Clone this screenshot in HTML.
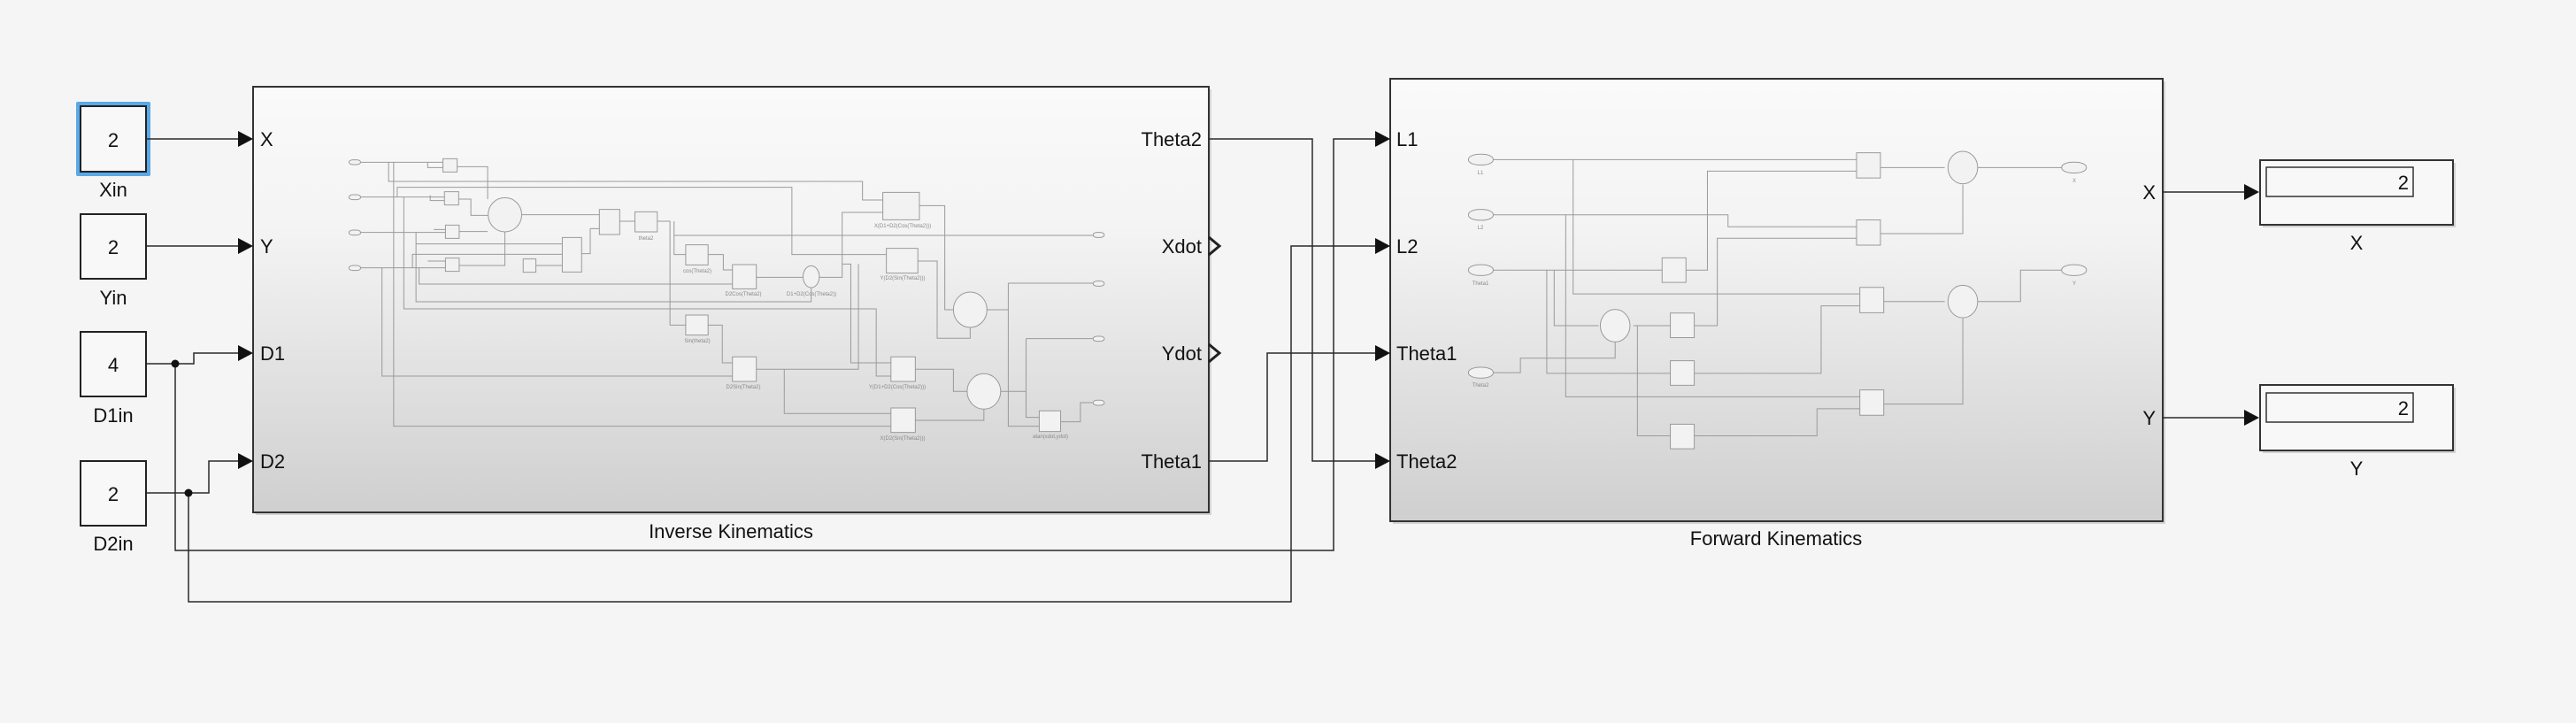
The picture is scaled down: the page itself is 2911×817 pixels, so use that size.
<!DOCTYPE html>
<html><head><meta charset="utf-8"><style>
html,body{margin:0;padding:0;background:#f5f5f5;}
svg{display:block;font-family:"Liberation Sans",sans-serif;}
.w{fill:none;stroke:#2a2a2a;stroke-width:1.5}
.i{fill:none;stroke:#9a9a9a;stroke-width:1;vector-effect:non-scaling-stroke}
.ib{fill:#f2f2f2;stroke:#9a9a9a;stroke-width:1;vector-effect:non-scaling-stroke}
.lbl{font-size:22px;fill:#111}
</style></head><body>
<svg width="2911" height="817" viewBox="0 0 2911 817" xmlns="http://www.w3.org/2000/svg">
<defs>
<linearGradient id="g" x1="0" y1="0" x2="0" y2="1">
<stop offset="0" stop-color="#fafafa"/><stop offset="0.35" stop-color="#f3f3f3"/><stop offset="1" stop-color="#cfcfcf"/>
</linearGradient>
</defs>
<rect width="2911" height="817" fill="#f5f5f5"/>

<!-- Source blocks -->
<rect x="86" y="115" width="84" height="84" fill="#5aa9e6" rx="2"/>
<rect x="91" y="120" width="74" height="74" fill="#f8f8f8" stroke="#222" stroke-width="2"/>
<text x="128" y="166" class="lbl" text-anchor="middle">2</text>
<text x="128" y="222" class="lbl" text-anchor="middle">Xin</text>
<rect x="91" y="242" width="74" height="73" fill="#f8f8f8" stroke="#222" stroke-width="2"/>
<text x="128" y="287" class="lbl" text-anchor="middle">2</text>
<text x="128" y="344" class="lbl" text-anchor="middle">Yin</text>
<rect x="91" y="375" width="74" height="73" fill="#f8f8f8" stroke="#222" stroke-width="2"/>
<text x="128" y="420" class="lbl" text-anchor="middle">4</text>
<text x="128" y="477" class="lbl" text-anchor="middle">D1in</text>
<rect x="91" y="521" width="74" height="73" fill="#f8f8f8" stroke="#222" stroke-width="2"/>
<text x="128" y="566" class="lbl" text-anchor="middle">2</text>
<text x="128" y="622" class="lbl" text-anchor="middle">D2in</text>

<!-- IK block -->
<rect x="289" y="101" width="1080" height="481" fill="#bdbdbd" opacity="0.6"/>
<rect x="286" y="98" width="1080" height="481" fill="url(#g)" stroke="#333" stroke-width="2"/>
<text x="826" y="608" class="lbl" text-anchor="middle">Inverse Kinematics</text>
<text x="294" y="165" class="lbl">X</text>
<text x="294" y="286" class="lbl">Y</text>
<text x="294" y="407" class="lbl">D1</text>
<text x="294" y="529" class="lbl">D2</text>
<text x="1358" y="165" class="lbl" text-anchor="end">Theta2</text>
<text x="1358" y="286" class="lbl" text-anchor="end">Xdot</text>
<text x="1358" y="407" class="lbl" text-anchor="end">Ydot</text>
<text x="1358" y="529" class="lbl" text-anchor="end">Theta1</text>
<polyline points="1366,268 1378,278 1366,288" fill="none" stroke="#222" stroke-width="3"/>
<polyline points="1366,389 1378,399 1366,409" fill="none" stroke="#222" stroke-width="3"/>

<!-- IK internals -->
<g transform="translate(380,160) scale(0.574,0.3333)">
<rect class="ib" x="25" y="62" width="23" height="16" rx="8"/>
<rect class="ib" x="25" y="180" width="23" height="17" rx="8"/>
<rect class="ib" x="25" y="300" width="23" height="17" rx="8"/>
<rect class="ib" x="25" y="420" width="23" height="17" rx="8"/>
<rect class="ib" x="1490" y="308" width="22" height="17" rx="8"/>
<rect class="ib" x="1490" y="473" width="22" height="17" rx="8"/>
<rect class="ib" x="1490" y="660" width="22" height="17" rx="8"/>
<rect class="ib" x="1490" y="877" width="22" height="17" rx="8"/>
<path class="i" d="M48,70H210 M180,70V88H210 M103,70V135H1036V198H1076 M113,70V965H1092
M238,85H298V195 M48,188H213 M185,182V200H213 M120,188V155H897V383H1083 M133,188V567H1063V795H1092
M241,195H265V250H298 M48,308H215 M192,298H215 M157,308V543H935V495 M157,347H445
M242,305H298 M48,428H215 M180,405H215 M90,428V795H780 M150,428V382H445 M163,428V483H780
M241,420H332V306 M365,248H518 M393,420H445 M483,380H500V295H518 M558,270H588
M632,270H657V622H688 M665,270V318H1490 M665,318V383H688 M732,383H762V435H780
M827,460H919 M951,460H996V240H1076 M996,415H1013V750H1092 M1148,217H1198V570H1215
M1145,405H1183V667H1248V630 M1281,570H1323 M1323,480H1490 M1323,480V965H1384
M732,622H760V750H780 M827,772H1028V415 M882,772V922H1092 M1140,772H1215V847H1242
M1140,945H1275V907 M1308,847H1358 M1358,668H1490 M1358,668V935H1384 M1426,950H1465V885H1490"/>
<rect class="ib" x="210" y="58" width="28" height="45"/>
<rect class="ib" x="213" y="170" width="28" height="45"/>
<rect class="ib" x="215" y="283" width="27" height="45"/>
<rect class="ib" x="215" y="395" width="27" height="45"/>
<rect class="ib" x="368" y="398" width="25" height="45"/>
<ellipse class="ib" cx="332" cy="248" rx="33" ry="58"/>
<rect class="ib" x="445" y="325" width="38" height="117"/>
<rect class="ib" x="518" y="230" width="40" height="85"/>
<rect class="ib" x="588" y="238" width="44" height="68"/>
<rect class="ib" x="688" y="350" width="44" height="68"/>
<rect class="ib" x="780" y="417" width="47" height="82"/>
<ellipse class="ib" cx="935" cy="458" rx="16" ry="37"/>
<rect class="ib" x="1076" y="172" width="72" height="93"/>
<rect class="ib" x="1083" y="362" width="62" height="84"/>
<ellipse class="ib" cx="1248" cy="570" rx="33" ry="60"/>
<rect class="ib" x="688" y="588" width="44" height="68"/>
<rect class="ib" x="780" y="730" width="47" height="83"/>
<rect class="ib" x="1092" y="730" width="48" height="83"/>
<ellipse class="ib" cx="1275" cy="847" rx="33" ry="60"/>
<rect class="ib" x="1092" y="903" width="48" height="83"/>
<rect class="ib" x="1384" y="913" width="42" height="70"/>
</g>
<g font-size="6" fill="#888" text-anchor="middle">
<text x="730" y="271">theta2</text><text x="788" y="308">cos(Theta2)</text>
<text x="840" y="334">D2Cos(Theta2)</text><text x="917" y="334">D1+D2(Cos(Theta2))</text>
<text x="1020" y="257">X(D1+D2(Cos(Theta2)))</text><text x="1020" y="316">Y(D2(Sin(Theta2)))</text>
<text x="788" y="387">Sin(theta2)</text><text x="840" y="439">D2Sin(Theta2)</text>
<text x="1014" y="439">Y(D1+D2(Cos(Theta2)))</text><text x="1020" y="497">X(D2(Sin(Theta2)))</text>
<text x="1187" y="495">atan(xdot,ydot)</text>
</g>

<!-- FK block -->
<rect x="1574" y="92" width="873" height="500" fill="#bdbdbd" opacity="0.6"/>
<rect x="1571" y="89" width="873" height="500" fill="url(#g)" stroke="#333" stroke-width="2"/>
<text x="2007" y="616" class="lbl" text-anchor="middle">Forward Kinematics</text>
<text x="1578" y="165" class="lbl">L1</text>
<text x="1578" y="286" class="lbl">L2</text>
<text x="1578" y="407" class="lbl">Theta1</text>
<text x="1578" y="529" class="lbl">Theta2</text>
<text x="2436" y="225" class="lbl" text-anchor="end">X</text>
<text x="2436" y="480" class="lbl" text-anchor="end">Y</text>

<g transform="translate(1450,60) scale(0.931,0.408)">
<path class="i" d="M255,295H696 M352,295V667H700 M255,448H540V481H696 M343,448V952H700
M255,601H460 M329,601V755H383 M320,601V887H470 M255,885H288V845H403V800
M489,601H515V327H696 M425,755H470 M430,755V1060H470 M499,755H527V513H696
M499,887H653V700H700 M499,1060H648V985H700 M725,317H803 M725,500H825V365
M729,688H803 M729,972H825V735 M843,317H945 M843,688H895V601H945"/>
<rect class="ib" x="225" y="280" width="30" height="30" rx="14"/>
<rect class="ib" x="225" y="433" width="30" height="30" rx="14"/>
<rect class="ib" x="225" y="586" width="30" height="30" rx="14"/>
<rect class="ib" x="225" y="870" width="30" height="30" rx="14"/>
<rect class="ib" x="945" y="302" width="30" height="30" rx="14"/>
<rect class="ib" x="945" y="586" width="30" height="30" rx="14"/>
<rect class="ib" x="696" y="276" width="29" height="70"/>
<rect class="ib" x="696" y="462" width="29" height="70"/>
<rect class="ib" x="460" y="567" width="29" height="68"/>
<rect class="ib" x="700" y="649" width="29" height="70"/>
<rect class="ib" x="470" y="720" width="29" height="68"/>
<rect class="ib" x="470" y="852" width="29" height="68"/>
<rect class="ib" x="700" y="933" width="29" height="70"/>
<rect class="ib" x="470" y="1028" width="29" height="68"/>
<ellipse class="ib" cx="825" cy="317" rx="18" ry="45"/>
<ellipse class="ib" cx="825" cy="688" rx="18" ry="45"/>
<ellipse class="ib" cx="403" cy="755" rx="18" ry="45"/>
</g>
<g font-size="6" fill="#888" text-anchor="middle">
<text x="1673" y="197">L1</text><text x="1673" y="259">L2</text><text x="1673" y="322">Theta1</text>
<text x="1673" y="437">Theta2</text><text x="2344" y="206">X</text><text x="2344" y="322">Y</text>
</g>

<!-- Displays -->
<rect x="2557" y="184" width="218" height="73" fill="#bbb" opacity="0.6"/>
<rect x="2554" y="181" width="218" height="73" fill="#f8f8f8" stroke="#333" stroke-width="2"/>
<rect x="2561" y="189" width="166" height="33" fill="#f8f8f8" stroke="#333" stroke-width="1.5"/>
<text x="2722" y="214" class="lbl" text-anchor="end">2</text>
<text x="2663" y="282" class="lbl" text-anchor="middle">X</text>
<rect x="2557" y="438" width="218" height="74" fill="#bbb" opacity="0.6"/>
<rect x="2554" y="435" width="218" height="74" fill="#f8f8f8" stroke="#333" stroke-width="2"/>
<rect x="2561" y="444" width="166" height="33" fill="#f8f8f8" stroke="#333" stroke-width="1.5"/>
<text x="2722" y="469" class="lbl" text-anchor="end">2</text>
<text x="2663" y="537" class="lbl" text-anchor="middle">Y</text>

<!-- Wires -->
<path class="w" d="M166,157H270 M166,278H270 M166,411H219V399H270 M166,557H236V521H270
M198,411V622H1507V157H1555 M213,557V680H1459V278H1555
M1366,157H1483V521H1555 M1366,521H1432V399H1555
M2444,217H2537 M2444,472H2537"/>
<circle cx="198" cy="411" r="4.5" fill="#111"/>
<circle cx="213" cy="557" r="4.5" fill="#111"/>
<g fill="#111">
<polygon points="269,148 286,157 269,166"/>
<polygon points="269,269 286,278 269,287"/>
<polygon points="269,390 286,399 269,408"/>
<polygon points="269,512 286,521 269,530"/>
<polygon points="1554,148 1571,157 1554,166"/>
<polygon points="1554,269 1571,278 1554,287"/>
<polygon points="1554,390 1571,399 1554,408"/>
<polygon points="1554,512 1571,521 1554,530"/>
<polygon points="2536,208 2553,217 2536,226"/>
<polygon points="2536,463 2553,472 2536,481"/>
</g>
</svg>
</body></html>
